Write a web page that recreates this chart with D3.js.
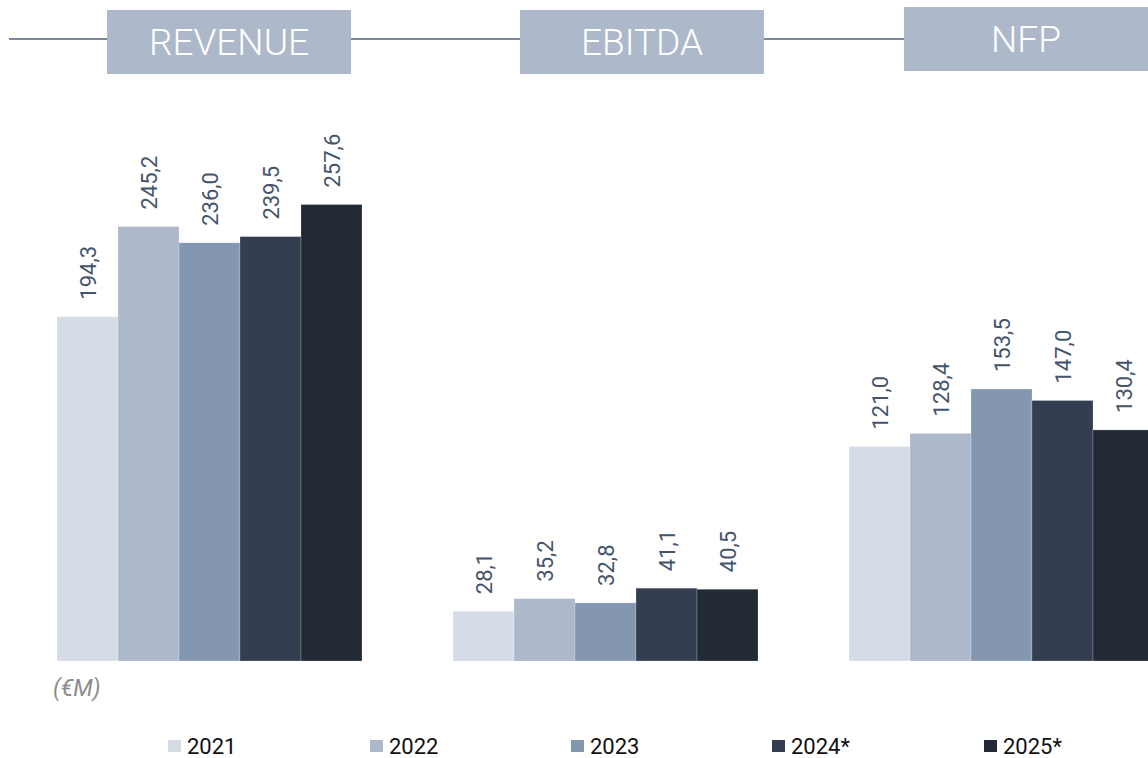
<!DOCTYPE html>
<html>
<head>
<meta charset="utf-8">
<script src="https://cdn.jsdelivr.net/npm/d3@7"></script>
<style>
  html, body { margin: 0; padding: 0; background: #fff; }
  svg { display: block; }
</style>
</head>
<body>
<svg id="chart" width="1148" height="758"></svg>
<script>
const metrics = ["REVENUE", "EBITDA", "NFP"];
const years = ["2021", "2022", "2023", "2024*", "2025*"];
const revenue = [194.3, 245.2, 236.0, 239.5, 257.6];
const ebitda = [28.1, 35.2, 32.8, 41.1, 40.5];
const nfp = [121.0, 128.4, 153.5, 147.0, 130.4];
const unitLabel = "(€M)";
const colors = ["#d5dce6", "#adb8ca", "#8497b0", "#333f50", "#222a35"];

const seriesByMetric = { REVENUE: revenue, EBITDA: ebitda, NFP: nfp };

// layout
const headerBoxes = { REVENUE: { x: 107, y: 10, w: 244, h: 64 }, EBITDA: { x: 520, y: 10, w: 244, h: 64 }, NFP: { x: 904, y: 7, w: 260, h: 64 } };
const legendX = [168, 370, 571, 772, 984];
const baseline = 661;

const svg = d3.select("#chart");

const y = d3.scaleLinear().domain([0, 300]).range([baseline, baseline - 300 * 1.772]);
const x0 = d3.scaleBand().domain(metrics).range([57, 1154]).paddingInner(91 / 396).paddingOuter(0);
const x1 = d3.scaleBand().domain(years).range([0, x0.bandwidth()]).padding(0);
const fmt = v => d3.format(".1f")(v).replace(".", ",");

// header line
svg.append("line").attr("x1", 9).attr("x2", 1148).attr("y1", 39).attr("y2", 39)
  .attr("stroke", "#7f8899").attr("stroke-width", 2);

// header boxes
metrics.forEach(m => {
  const b = headerBoxes[m];
  svg.append("rect").attr("x", b.x).attr("y", b.y).attr("width", b.w).attr("height", b.h).attr("fill", "#adb8ca");
  const cx = m === "NFP" ? b.x + 122 : b.x + b.w / 2;
  svg.append("text").attr("x", cx).attr("y", b.y + 45)
    .attr("text-anchor", "middle").attr("fill", "#ffffff")
    .attr("font-family", "Roboto").attr("font-weight", 300).attr("font-size", 37)
    .text(m);
});

// bars
metrics.forEach(m => {
  const g = svg.append("g").attr("transform", `translate(${x0(m)},0)`);
  const data = seriesByMetric[m].map((v, i) => ({ year: years[i], v, c: colors[i] }));
  g.selectAll("rect").data(data).join("rect")
    .attr("x", d => x1(d.year))
    .attr("y", d => y(d.v))
    .attr("width", x1.bandwidth())
    .attr("height", d => y(0) - y(d.v))
    .attr("fill", d => d.c)
    .attr("stroke", "rgba(255,255,255,0.35)").attr("stroke-width", 0.6);
  g.selectAll("text").data(data).join("text")
    .attr("transform", d => `translate(${x1(d.year) + x1.bandwidth() / 2 + 8},${y(d.v) - 17}) rotate(-90)`)
    .attr("text-anchor", "start")
    .attr("fill", "#44546a")
    .attr("font-family", "Roboto").attr("font-size", 22)
    .text(d => fmt(d.v));
});

// unit label
svg.append("text").attr("x", 53).attr("y", 696)
  .attr("fill", "#8c8c8c").attr("font-family", "Roboto").attr("font-style", "italic").attr("font-size", 23)
  .text(unitLabel);

// legend
const lg = svg.append("g");
years.forEach((yr, i) => {
  lg.append("rect").attr("x", legendX[i]).attr("y", 740).attr("width", 13).attr("height", 12).attr("fill", colors[i]);
  lg.append("text").attr("x", legendX[i] + 19).attr("y", 754)
    .attr("fill", "#111").attr("font-family", "Roboto").attr("font-size", 22)
    .text(yr);
});
</script>
</body>
</html>
